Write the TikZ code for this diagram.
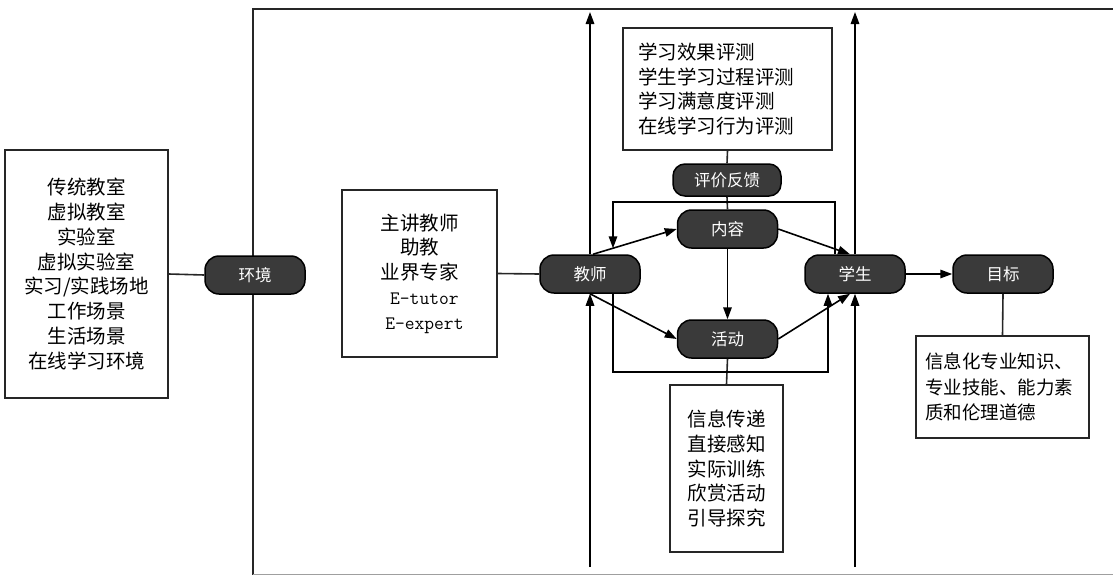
\documentclass[tikz,border=0pt]{standalone}
\usepackage{fontspec}
\setmainfont{Noto Sans CJK SC}
\usetikzlibrary{arrows.meta,calc}
\definecolor{pillgray}{HTML}{3A3A3A}
\definecolor{linegray}{HTML}{262626}
\tikzset{
  box/.style={draw=linegray, line width=1.7pt, fill=white, align=center,
    font={\fontsize{19.5}{24.75}\selectfont}, inner sep=0pt},
  pill/.style={draw=black, fill=pillgray, text=white, rounded corners=14pt,
    minimum width=100pt, minimum height=38pt, line width=1.5pt, inner sep=0pt,
    font={\fontsize{16.5}{18}\selectfont}},
  arr/.style={-{Triangle[length=12pt,width=8.5pt]}, line width=1.6pt, draw=black},
  ln/.style={line width=1.6pt, draw=linegray},
}
\begin{document}
\begin{tikzpicture}[x=1pt,y=-1pt]
\useasboundingbox (0,0) rectangle (1113,576);
% frame
\draw[line width=1.9pt, draw=linegray] (1113,9) -- (253,9) -- (253,575);
\draw[line width=1.9pt, draw=gray!75] (253,574.5) -- (1113,574.5);

% boxes
\node[box, minimum width=163pt, minimum height=248pt] (envbox) at (86.5,274)
  {传统教室\\虚拟教室\\实验室\\虚拟实验室\\实习/实践场地\\工作场景\\生活场景\\在线学习环境};
\node[box, minimum width=155pt, minimum height=167pt] (teachbox) at (419.5,273.5)
  {主讲教师\\助教\\业界专家\\{\ttfamily\fontsize{19}{24.75}\selectfont \ E-tutor}\\{\ttfamily\fontsize{19}{24.75}\selectfont \ E-expert}};
\node[box, align=left, text width=179pt, inner xsep=15pt, minimum height=122pt] (evalbox) at (727.5,89)
  {学习效果评测\\学生学习过程评测\\学习满意度评测\\在线学习行为评测};
\node[box, minimum width=113pt, minimum height=167pt] (actbox) at (726.5,468.5)
  {信息传递\\直接感知\\实际训练\\欣赏活动\\引导探究};
\node[box, align=left, text width=155pt, inner xsep=9pt, minimum height=102pt,
  font={\fontsize{18.5}{25.5}\selectfont}] (goalbox) at (1002.5,387)
  {信息化专业知识、\\专业技能、能力素\\质和伦理道德};

% pills
\node[pill] (env) at (255,275) {环境};
\node[pill] (teach) at (590,274) {教师};
\node[pill] (stu) at (855,274) {学生};
\node[pill] (goal) at (1003,274) {目标};
\node[pill] (cont) at (727.5,229) {内容};
\node[pill] (act) at (727.5,339) {活动};
\node[pill, minimum width=108pt, minimum height=32pt, rounded corners=12pt] (eval) at (727,180) {评价反馈};

% coordinates
\coordinate (t1) at (590,12);
\coordinate (b1) at (590,567);
\coordinate (t2) at (855,12);
\coordinate (b2) at (855,567);
\coordinate (rtL) at (613,202);
\coordinate (rtR) at (835,202);
\coordinate (rbL) at (613,372);
\coordinate (rbR) at (828,372);

% plain links
\draw[ln] (envbox.east) -- (env.west);
\draw[ln] (teachbox.east) -- (teach.west);
\draw[ln] (goal.south) -- (goalbox.north);
\draw[ln] (evalbox.south) -- (eval.north);
\draw[ln] (eval.south) -- (cont.north);
\draw[ln] (act.south) -- (actbox.north);

% vertical arrows
\draw[arr] (b1) -- (teach.south);
\draw[arr] (teach.north) -- (t1);
\draw[arr] (b2) -- (stu.south);
\draw[arr] (stu.north) -- (t2);

% inner arrows
\draw[arr] ($(teach.north)+(3,0)$) -- (cont.west);
\draw[arr] (teach.south) -- (act.west);
\draw[arr] (cont.east) -- ($(stu.north)+(-5,0)$);
\draw[arr] (act.east) -- ($(stu.south)+(-5,0)$);
\draw[arr] (cont.south) -- (act.north);
\draw[arr] (goal.west -| stu.east) -- (goal.west);

% feedback loops
\draw[arr] (rtR |- stu.north) -- (rtR) -- (rtL) -- ($(rtL |- teach.north)+(0,-6)$);
\draw[arr] (rbL |- teach.south) -- (rbL) -- (rbR) -- (rbR |- stu.south);
\end{tikzpicture}
\end{document}
